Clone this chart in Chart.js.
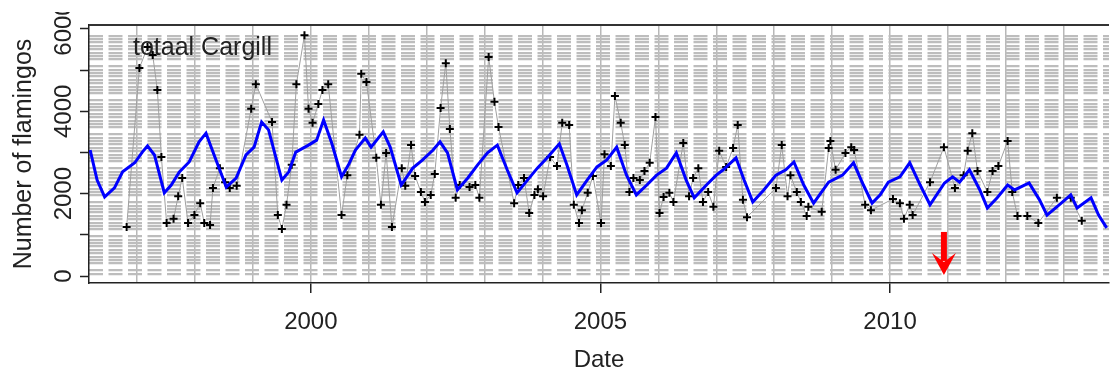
<!DOCTYPE html>
<html>
<head>
<meta charset="utf-8">
<script src="https://cdn.jsdelivr.net/npm/chart.js@4.4.1/dist/chart.umd.min.js"></script>
<style>
  html, body { margin: 0; background: #fff; }
  #area { width: 1115px; height: 372px; }
</style>
</head>
<body>
<div id="area"><canvas id="grafico"></canvas></div>
<script>
// contagens (ano decimal) - pontos "+"
const datas = [
  1996.82, 1997.04, 1997.18, 1997.27, 1997.35, 1997.42, 1997.51, 1997.63, 1997.71, 1997.78,
  1997.88, 1997.99, 1998.09, 1998.16, 1998.26, 1998.31, 1998.43, 1998.52, 1998.60, 1998.72,
  1998.97, 1999.05, 1999.33, 1999.43, 1999.50, 1999.58, 1999.67, 1999.75, 1999.89, 1999.96,
  2000.03, 2000.13, 2000.20, 2000.30, 2000.53, 2000.63, 2000.84, 2000.87, 2000.96, 2001.13,
  2001.21, 2001.30, 2001.40, 2001.57, 2001.63, 2001.73, 2001.80, 2001.90, 2001.97, 2002.07,
  2002.14, 2002.24, 2002.33, 2002.40, 2002.50, 2002.57, 2002.74, 2002.84, 2002.91, 2003.07,
  2003.17, 2003.24, 2003.51, 2003.58, 2003.68, 2003.77, 2003.86, 2003.92, 2004.01, 2004.13,
  2004.25, 2004.34, 2004.46, 2004.54, 2004.63, 2004.68, 2004.78, 2004.87, 2005.01, 2005.07,
  2005.18, 2005.25, 2005.35, 2005.42, 2005.50, 2005.57, 2005.68, 2005.76, 2005.85, 2005.95,
  2006.02, 2006.09, 2006.19, 2006.26, 2006.43, 2006.53, 2006.60, 2006.69, 2006.77, 2006.86,
  2006.95, 2007.05, 2007.17, 2007.29, 2007.37, 2007.46, 2007.53, 2008.03, 2008.13, 2008.23,
  2008.28, 2008.39, 2008.46, 2008.56, 2008.59, 2008.82, 2008.94, 2008.97, 2009.06, 2009.23,
  2009.33, 2009.38, 2009.57, 2009.67, 2010.05, 2010.17, 2010.24, 2010.34, 2010.39, 2010.69,
  2010.93, 2011.12, 2011.27, 2011.34, 2011.42, 2011.51, 2011.68, 2011.77, 2011.87, 2012.03,
  2012.11, 2012.20, 2012.37, 2012.56, 2012.88, 2013.12, 2013.31
];
const contagens = [
  1190, 5050, 5560, 5370, 4520, 2890, 1290, 1390, 1940, 2380,
  1290, 1480, 1770, 1290, 1240, 2140, 2620, 2280, 2140, 2190,
  4060, 4660, 3740, 1480, 1140, 1730, 2700, 4660, 5850, 4060,
  3720, 4180, 4520, 4660, 1480, 2450, 3430, 4910, 4710, 2870,
  1730, 2990, 1190, 2620, 2190, 3180, 2430, 2040, 1800, 1970,
  2480, 4080, 5170, 3570, 1900, 2210, 2160, 2210, 1900, 5320,
  4230, 3620, 1770, 2210, 2380, 1530, 1970, 2110, 1940, 2890,
  2670, 3720, 3670, 1730, 1290, 1600, 2020, 2430, 1290, 2960,
  2670, 4370, 3720, 3180, 2040, 2380, 2330, 2550, 2750, 3860,
  1530, 1920, 2020, 1800, 3230, 1940, 2380, 2620, 1800, 2040,
  1680, 3040, 2650, 3110, 3670, 1850, 1430, 2140, 3180, 1940,
  2450, 2040, 1800, 1460, 1680, 1560, 3110, 3280, 2580, 2990,
  3130, 3060, 1730, 1600, 1870, 1770, 1390, 1730, 1480, 2280,
  3130, 2140, 2450, 3040, 3470, 2550, 2040, 2550, 2670, 3280,
  2040, 1460, 1460, 1290, 1900, 1900, 1340
];

// linha suavizada (azul)
const anosSuave = [
  1996.19, 1996.31, 1996.44, 1996.61, 1996.75, 1996.96, 1997.09, 1997.18, 1997.30, 1997.47,
  1997.59, 1997.73, 1997.90, 1998.07, 1998.19, 1998.33, 1998.54, 1998.71, 1998.88, 1999.02,
  1999.15, 1999.27, 1999.50, 1999.62, 1999.74, 1999.96, 2000.10, 2000.22, 2000.36, 2000.53,
  2000.65, 2000.77, 2000.94, 2001.04, 2001.25, 2001.37, 2001.56, 2001.76, 2001.93, 2002.11,
  2002.23, 2002.36, 2002.53, 2002.71, 2002.88, 2003.05, 2003.22, 2003.39, 2003.56, 2003.74,
  2003.91, 2004.08, 2004.29, 2004.42, 2004.59, 2004.77, 2004.94, 2005.11, 2005.28, 2005.45,
  2005.62, 2005.80, 2005.97, 2006.14, 2006.31, 2006.48, 2006.62, 2006.83, 2007.00, 2007.12,
  2007.34, 2007.48, 2007.63, 2007.82, 2008.03, 2008.20, 2008.34, 2008.51, 2008.68, 2008.94,
  2009.18, 2009.37, 2009.54, 2009.69, 2009.83, 2009.97, 2010.17, 2010.34, 2010.52, 2010.69,
  2010.94, 2011.08, 2011.20, 2011.37, 2011.55, 2011.68, 2011.85, 2012.03, 2012.15, 2012.40,
  2012.58, 2012.71, 2012.92, 2013.12, 2013.23, 2013.47, 2013.60, 2013.74
];
const suave = [
  3060, 2330, 1920, 2140, 2530, 2750, 3010, 3160, 2940, 2020,
  2210, 2530, 2770, 3260, 3470, 2940, 2160, 2380, 2940, 3130,
  3740, 3550, 2330, 2530, 3010, 3180, 3300, 3790, 3230, 2410,
  2700, 3060, 3350, 3130, 3500, 3130, 2210, 2620, 2820, 3060,
  3260, 2990, 2090, 2380, 2700, 2990, 3180, 2580, 2020, 2330,
  2620, 2870, 3210, 2700, 1970, 2330, 2650, 2820, 3130, 2450,
  1970, 2210, 2450, 2620, 2990, 2330, 1900, 2210, 2450, 2580,
  2870, 2330, 1800, 2090, 2450, 2580, 2770, 2210, 1770, 2280,
  2450, 2750, 2210, 1770, 1970, 2280, 2410, 2750, 2210, 1730,
  2260, 2410, 2280, 2580, 2090, 1650, 1900, 2210, 2090, 2260,
  1850, 1480, 1730, 1970, 1650, 1900, 1480, 1170
];

// eixos
const anosGrade = [1997, 1998, 1999, 2000, 2001, 2002, 2003, 2004, 2005, 2006, 2007, 2008, 2009, 2010, 2011, 2012, 2013];
const anosRotulos = [2000, 2005, 2010];
const yTicks = [0, 1000, 2000, 3000, 4000, 5000, 6000];
const yRotulos = [0, 2000, 4000, 6000];

// seta vermelha
const setaAno = 2010.93;
const setaDe = 1070;
const setaAte = 25;

const titulo = "totaal Cargill";
const fonte = "'Liberation Sans', Arial, sans-serif";

// linhas horizontais tracejadas do fundo
function linhasGrade() {
  const linhas = [];
  for (let j = -2; j <= 68; j++) {
    if (j % 10 !== 0) linhas.push(219 + 82.6 * j);
  }
  return linhas;
}

const extras = {
  id: "extras",
  afterDraw(chart) {
    const { ctx, chartArea: area, scales } = chart;
    ctx.save();
    // borda superior
    ctx.strokeStyle = "#333";
    ctx.lineWidth = 2;
    ctx.beginPath();
    ctx.moveTo(area.left, area.top);
    ctx.lineTo(area.right, area.top);
    ctx.stroke();

    // rotulos do eixo y (girados)
    ctx.save();
    ctx.beginPath();
    ctx.rect(0, 12, scales.y.right, chart.height);
    ctx.clip();
    ctx.font = `24px ${fonte}`;
    ctx.fillStyle = "#222";
    ctx.textAlign = "center";
    ctx.textBaseline = "alphabetic";
    yRotulos.forEach((v) => {
      ctx.save();
      ctx.translate(scales.y.right - 18, scales.y.getPixelForValue(v));
      ctx.rotate(-Math.PI / 2);
      ctx.fillText(String(v), 0, 0);
      ctx.restore();
    });
    ctx.restore();

    // texto
    ctx.font = `25px ${fonte}`;
    ctx.fillStyle = "#222";
    ctx.textAlign = "left";
    ctx.textBaseline = "alphabetic";
    ctx.fillText(titulo, area.left + 44, area.top + 30);

    // seta
    const x = scales.x.getPixelForValue(setaAno);
    const y1 = scales.y.getPixelForValue(setaDe);
    const y2 = scales.y.getPixelForValue(setaAte);
    ctx.fillStyle = "#ff0000";
    ctx.fillRect(x - 3, y1, 6, y2 - y1 - 14);
    ctx.beginPath();
    ctx.moveTo(x - 12, y2 - 22);
    ctx.lineTo(x, y2 - 13);
    ctx.lineTo(x + 12, y2 - 22);
    ctx.lineTo(x, y2);
    ctx.closePath();
    ctx.fill();
    ctx.restore();
  }
};

Chart.defaults.font.family = fonte;
Chart.defaults.color = "#222";

new Chart(document.getElementById("grafico"), {
  type: "line",
  data: {
    datasets: [
      {
        label: "suave",
        data: anosSuave.map((a, i) => ({ x: a, y: suave[i] })),
        borderColor: "#0000ff",
        borderWidth: 3,
        pointRadius: 0,
        order: 0
      },
      {
        label: titulo,
        data: datas.map((d, i) => ({ x: d, y: contagens[i] })),
        borderColor: "#a0a0a0",
        borderWidth: 1,
        pointStyle: "cross",
        pointRadius: 4,
        pointBorderColor: "#000",
        pointBorderWidth: 2,
        order: 1
      }
    ]
  },
  options: {
    responsive: true,
    maintainAspectRatio: false,
    animation: false,
    layout: { padding: { top: 25, right: 0, left: 0, bottom: 0 } },
    plugins: { legend: { display: false }, tooltip: { enabled: false } },
    scales: {
      x: {
        type: "linear",
        min: 1996.17,
        max: 2013.78,
        afterBuildTicks: (s) => { s.ticks = anosGrade.map((v) => ({ value: v })); },
        afterFit: (s) => { s.height = 89; },
        ticks: {
          autoSkip: false,
          maxRotation: 0,
          padding: 15,
          font: { size: 24 },
          color: "#222",
          callback: (v) => (anosRotulos.includes(v) ? String(v) : "")
        },
        grid: {
          color: "#b8b8b8",
          lineWidth: 1.5,
          tickLength: 10,
          tickWidth: 1.5,
          tickColor: (c) => (c.tick && anosRotulos.includes(c.tick.value) ? "#222" : "rgba(0,0,0,0)")
        },
        border: { display: true, color: "#222", width: 1.5 },
        title: { display: true, text: "Date", font: { size: 24 }, color: "#222", padding: { top: 0, bottom: -3 } }
      },
      y: {
        min: -170,
        max: 6097,
        afterBuildTicks: (s) => { s.ticks = yTicks.map((v) => ({ value: v })); },
        afterFit: (s) => { s.width = 89; },
        ticks: { display: false },
        grid: { drawOnChartArea: false, tickLength: 9, tickWidth: 1.5, tickColor: "#222" },
        border: { display: true, color: "#222", width: 1.5 },
        title: { display: true, text: "Number of flamingos", font: { size: 25 }, color: "#222", padding: { top: 9, bottom: 0 } }
      },
      yg: {
        position: "left",
        min: -170,
        max: 6097,
        afterBuildTicks: (s) => { s.ticks = linhasGrade().map((v) => ({ value: v })); },
        afterFit: (s) => { s.width = 0; },
        ticks: { display: false },
        grid: { color: "#bdbdbd", lineWidth: 2.2, drawTicks: false },
        border: { display: false, dash: [14, 5.5] }
      }
    }
  },
  plugins: [extras]
});
</script>
</body>
</html>
